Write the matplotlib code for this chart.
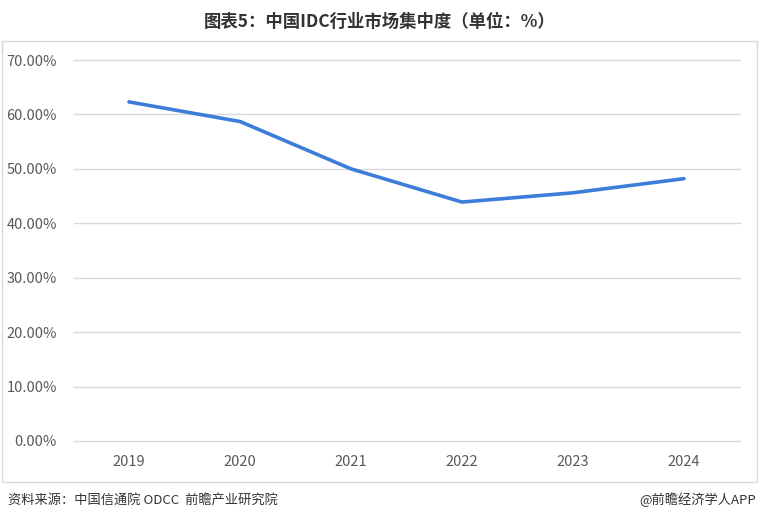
import matplotlib.pyplot as plt
from matplotlib.patches import Rectangle
from matplotlib.ticker import FuncFormatter

plt.rcParams['font.family'] = ['Noto Sans CJK SC', 'DejaVu Sans']

years = ['2019', '2020', '2021', '2022', '2023', '2024']
share = [62.3, 58.7, 50.0, 43.9, 45.6, 48.2]

W, H = 760, 522
fig = plt.figure(figsize=(W / 100, H / 100), dpi=100)
ax = fig.add_axes([73.5 / W, 1 - 441 / H, 666 / W, 381 / H])

x = range(len(years))
ax.plot(x, share, color='#3B7DD8', linewidth=2.6, solid_capstyle='round')

ax.set_xlim(-0.5, len(years) - 0.5)
ax.set_ylim(0, 70)
ax.set_yticks(range(0, 71, 10))
ax.yaxis.set_major_formatter(FuncFormatter(lambda v, p: f'{v:.2f}%'))
ax.set_xticks(list(x))
ax.set_xticklabels(years)
ax.grid(axis='y', color='#D9D9D9', linewidth=1)
for gl in ax.get_ygridlines():
    gl.set_clip_on(False)
ax.set_axisbelow(True)
for s in ax.spines.values():
    s.set_visible(False)
ax.tick_params(length=0, labelsize=10.5, labelcolor='#595959')
ax.tick_params(axis='y', pad=12)
ax.tick_params(axis='x', pad=10)

# outer frame of the chart area
fig.patches.append(Rectangle((2 / W, 1 - 482 / H), 755 / W, 441 / H,
                             transform=fig.transFigure, fill=False,
                             edgecolor='#D9D9D9', linewidth=1))

fig.text(0.5, 1 - 22 / H, '图表5：中国IDC行业市场集中度（单位：%）', ha='center', va='center',
         fontsize=12.5, fontweight='bold', color='#333333')
fig.text(8 / W, 1 - 500 / H, '资料来源：中国信通院 ODCC  前瞻产业研究院', ha='left', va='center',
         fontsize=9.5, color='#333333')
fig.text(756 / W, 1 - 500 / H, '@前瞻经济学人APP', ha='right', va='center',
         fontsize=9.5, color='#333333')

fig.savefig('out.png', dpi=100)
